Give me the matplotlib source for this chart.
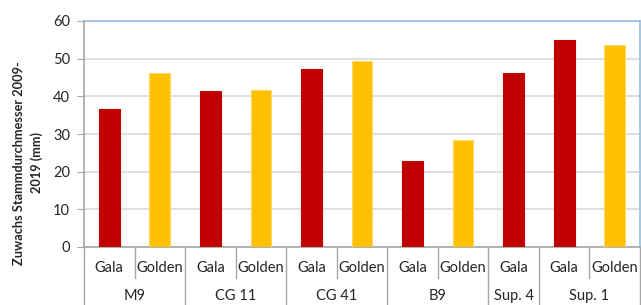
import matplotlib.pyplot as plt
from matplotlib.transforms import blended_transform_factory

rootstocks = ["M9", "CG 11", "CG 41", "B9", "Sup. 4", "Sup. 1"]
varieties = [["Gala", "Golden"], ["Gala", "Golden"], ["Gala", "Golden"],
             ["Gala", "Golden"], ["Gala"], ["Gala", "Golden"]]
values = [[36.6, 46.2], [41.4, 41.8], [47.2, 49.3],
          [22.8, 28.4], [46.2], [54.9, 53.6]]

colors = {"Gala": "#c00000", "Golden": "#ffc000"}
edges = {"Gala": "#c00000", "Golden": "#ffd966"}

plt.rcParams['font.family'] = ['Lato', 'DejaVu Sans']

fig = plt.figure(figsize=(6.41, 3.05), dpi=100)
ax = fig.add_axes([84 / 641, 58 / 305, 556 / 641, 226 / 305])

# flatten groups into one row of bars
xs, hs, cs, ecs, labs = [], [], [], [], []
pos = 0
bounds = [-0.5]
for grp, vs in zip(varieties, values):
    for v, h in zip(grp, vs):
        xs.append(pos)
        hs.append(h)
        cs.append(colors[v])
        ecs.append(edges[v])
        labs.append(v)
        pos += 1
    bounds.append(pos - 0.5)

ax.bar(xs, hs, width=0.41, color=cs, edgecolor=ecs, linewidth=0.8, zorder=3)

ax.set_xlim(-0.5, pos - 0.5)
ax.set_ylim(0, 60)
ax.set_yticks(range(0, 61, 10))
ax.yaxis.grid(True, color="#d9d9d9", linewidth=1.2, zorder=0)
ax.tick_params(axis='y', labelsize=10.5, length=5, color="#a6a6a6", pad=5, labelcolor="#262626")
ax.set_xticks([])

for s in ["top", "right"]:
    ax.spines[s].set_color("#9dbcda")
    ax.spines[s].set_linewidth(1.2)
for s in ["left", "bottom"]:
    ax.spines[s].set_color("#a6a6a6")
    ax.spines[s].set_linewidth(1.2)

tr = blended_transform_factory(ax.transData, ax.transAxes)
px = 1 / 226
for x, lab in zip(xs, labs):
    ax.text(x, -21 * px, lab, transform=tr, ha="center", va="center",
            fontsize=10.5, color="#262626")

# separators between categories and groups
start = 0
for grp, name in zip(varieties, rootstocks):
    n = len(grp)
    for k in range(1, n):
        ax.plot([start + k - 0.5] * 2, [0, -31 * px], transform=tr, color="#a6a6a6",
                linewidth=1, clip_on=False)
    ax.text(start + (n - 1) / 2, -49 * px, name, transform=tr, ha="center", va="center",
            fontsize=10.5, color="#262626")
    start += n
for b in bounds:
    ax.plot([b, b], [0, -60 * px], transform=tr, color="#a6a6a6", linewidth=1, clip_on=False)

fig.text(28 / 641, 0.466, "Zuwachs Stammdurchmesser 2009-\n2019 (mm)", rotation=90,
         ha="center", va="center", fontsize=9.2, fontweight="bold", color="#262626",
         multialignment="center", linespacing=1.45)

fig.savefig("out.png", dpi=100)
